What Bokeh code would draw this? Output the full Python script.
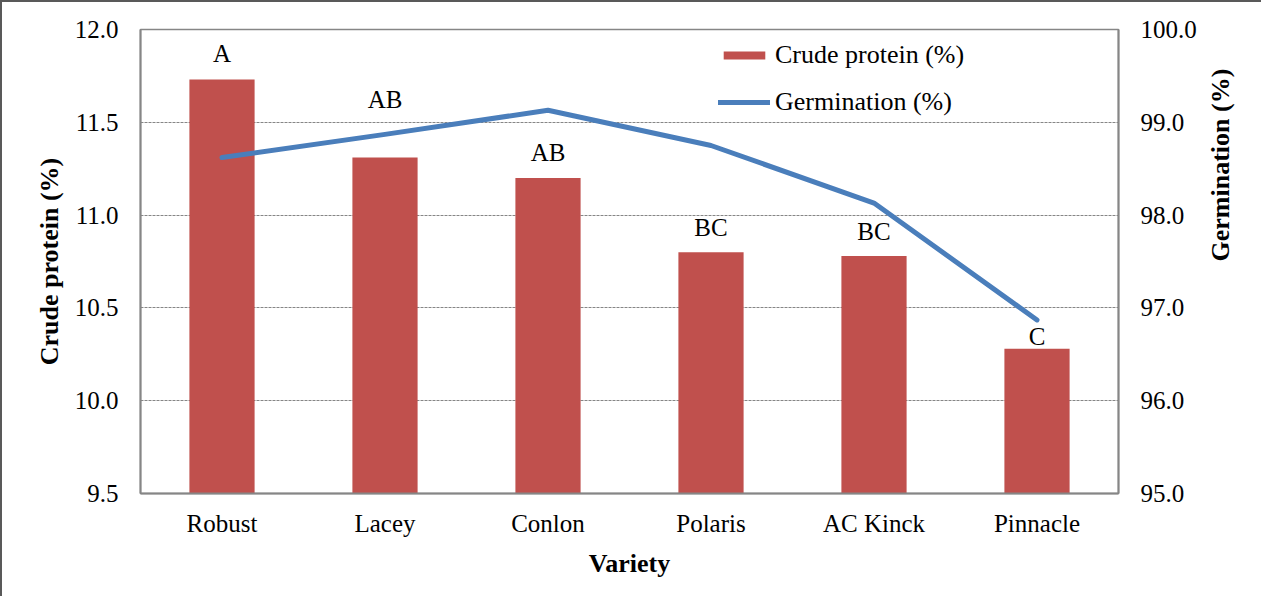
import math
from bokeh.plotting import figure
from bokeh.models import (Range1d, LinearAxis, FixedTicker, PrintfTickFormatter,
                          FactorRange, ColumnDataSource, Legend, LegendItem, LabelSet)
from bokeh.embed import file_html
from bokeh.resources import INLINE

# ---- data ----
varieties = ["Robust", "Lacey", "Conlon", "Polaris", "AC Kinck", "Pinnacle"]
crude_protein = [11.73, 11.31, 11.20, 10.80, 10.78, 10.28]
germination = [98.62, 98.87, 99.13, 98.75, 98.13, 96.87]
letters = ["A", "AB", "AB", "BC", "BC", "C"]
left_ticks = [9.5, 10.0, 10.5, 11.0, 11.5, 12.0]
right_ticks = [95.0, 96.0, 97.0, 98.0, 99.0, 100.0]

# label offsets above bar tops (screen px)
letter_offsets = [18, 50, 17, 16, 16, 4]

FONT = "Liberation Serif"
BAR_COLOR = "#C0504D"
LINE_COLOR = "#4A7EBB"
AXIS_GRAY = "#868686"

source = ColumnDataSource(dict(variety=varieties, cp=crude_protein, germ=germination,
                               letter=letters, off=letter_offsets))

p = figure(x_range=FactorRange(*varieties, range_padding=0),
           y_range=Range1d(left_ticks[0], left_ticks[-1]),
           width=1261, height=596, output_backend="svg", toolbar_location=None,
           min_border_left=138, min_border_right=145, min_border_top=27, min_border_bottom=105,
           styles={"border-left": "2px solid #595959", "border-top": "2px solid #595959"})
p.extra_y_ranges = {"germ": Range1d(right_ticks[0], right_ticks[-1])}

bars = p.vbar(x="variety", top="cp", bottom=left_ticks[0], width=0.4, source=source,
              fill_color=BAR_COLOR, line_color=None)
line = p.line(x="variety", y="germ", source=source, y_range_name="germ",
              line_color=LINE_COLOR, line_width=5, line_cap="round", line_join="round")

labels = LabelSet(x="variety", y="cp", text="letter", y_offset="off", source=source,
                  text_align="center", text_baseline="alphabetic",
                  text_font=FONT, text_font_size="25px", text_color="black")
p.add_layout(labels)

# frame / grid
p.outline_line_color = AXIS_GRAY
p.outline_line_width = 1.5
p.xgrid.grid_line_color = None
p.ygrid.grid_line_color = AXIS_GRAY
p.ygrid.grid_line_dash = "3 1"
p.ygrid.grid_line_width = 1
p.ygrid.ticker = FixedTicker(ticks=left_ticks)

def style_axis(ax):
    ax.major_tick_line_color = None
    ax.minor_tick_line_color = None
    ax.major_tick_out = 0
    ax.major_tick_in = 0
    ax.axis_line_color = AXIS_GRAY
    ax.axis_line_width = 2
    ax.major_label_text_font = FONT
    ax.major_label_text_font_size = "25px"
    ax.major_label_text_color = "black"
    ax.axis_label_text_font = FONT
    ax.axis_label_text_font_size = "26px"
    ax.axis_label_text_font_style = "bold"
    ax.axis_label_text_color = "black"

# left axis
ly = p.yaxis[0]
style_axis(ly)
ly.ticker = FixedTicker(ticks=left_ticks)
ly.formatter = PrintfTickFormatter(format="%.1f")
ly.major_label_standoff = 22
ly.axis_label = "Crude protein (%)"
ly.axis_label_standoff = 8

# bottom axis
bx = p.xaxis[0]
style_axis(bx)
bx.major_label_standoff = 16
bx.axis_label = "Variety"
bx.axis_label_standoff = 9

# right axis
ry = LinearAxis(y_range_name="germ", ticker=FixedTicker(ticks=right_ticks),
                formatter=PrintfTickFormatter(format="%.1f"))
style_axis(ry)
ry.major_label_standoff = 22
ry.axis_label = "Germination (%)"
ry.axis_label_standoff = 21
try:
    ry.axis_label_orientation = math.pi / 2
except Exception:
    pass
p.add_layout(ry, "right")

legend = Legend(items=[LegendItem(label="Crude protein (%)", renderers=[bars]),
                       LegendItem(label="Germination (%)", renderers=[line])],
                location=(578, 376), orientation="vertical",
                border_line_color=None, background_fill_alpha=0,
                padding=0, margin=0, spacing=17, glyph_width=52, glyph_height=10,
                label_standoff=5, label_text_font=FONT, label_text_font_size="26px",
                label_text_color="black")
p.add_layout(legend)

open("out.html", "w").write(file_html(p, INLINE))
